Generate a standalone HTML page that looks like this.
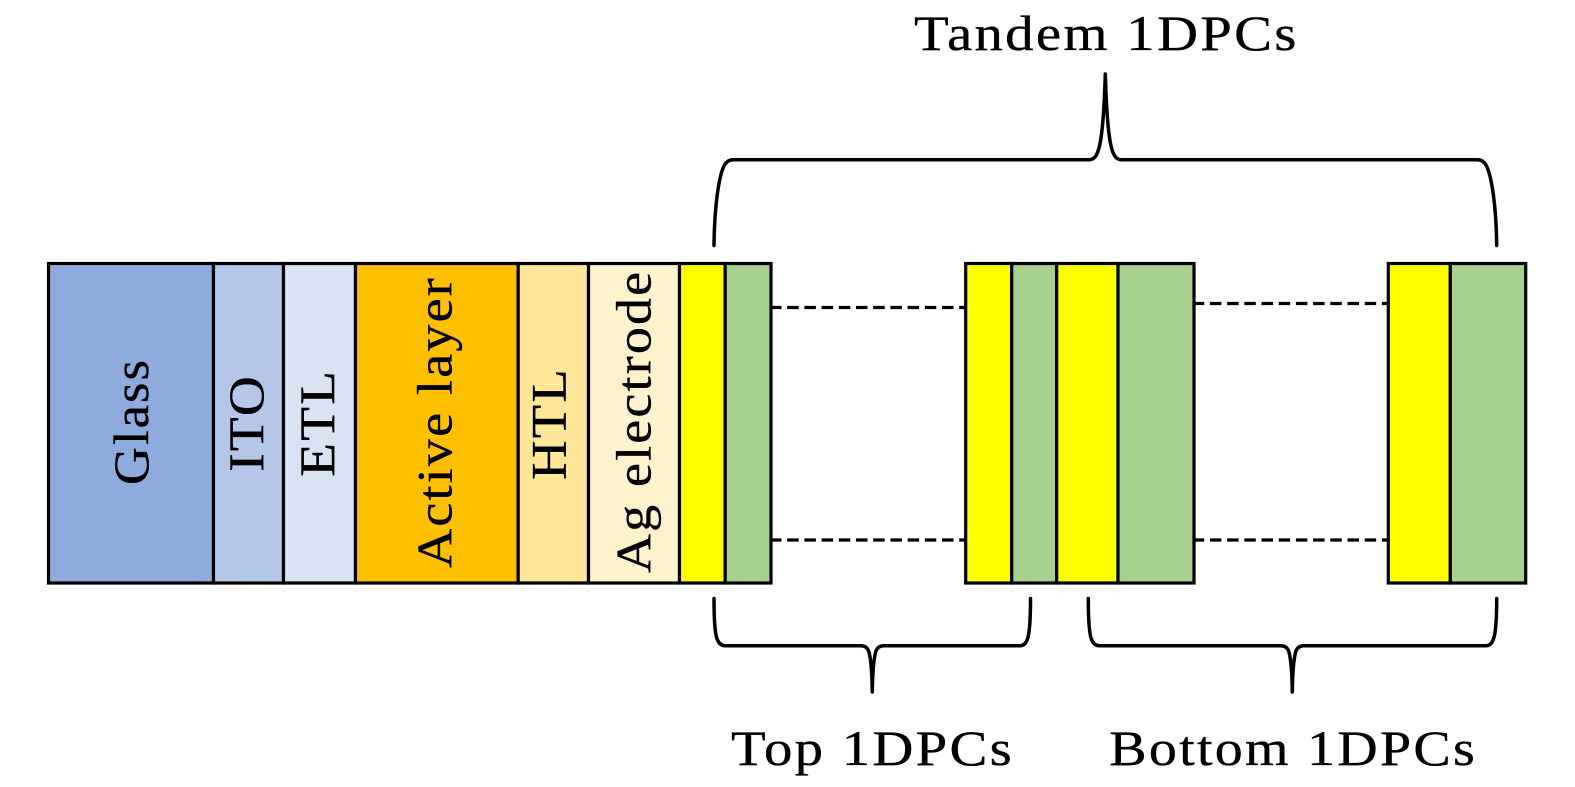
<!DOCTYPE html>
<html>
<head>
<meta charset="utf-8">
<style>
html,body{margin:0;padding:0;background:#fff;width:1575px;height:787px;overflow:hidden}
svg{display:block}
text{font-family:"Liberation Serif",serif;font-size:50px;fill:#000;stroke:#000;stroke-width:.35px;letter-spacing:2px}
</style>
</head>
<body>
<svg width="1575" height="787" viewBox="0 0 1575 787" xmlns="http://www.w3.org/2000/svg">
<g stroke="#000" stroke-width="3.2" stroke-linejoin="miter">
<rect x="48.5" y="263.5" width="165" height="319.5" fill="#8FAADC"/>
<rect x="213.5" y="263.5" width="70" height="319.5" fill="#B4C7E7"/>
<rect x="283.5" y="263.5" width="72" height="319.5" fill="#DAE3F3"/>
<rect x="355.5" y="263.5" width="162.7" height="319.5" fill="#FFC000"/>
<rect x="518.2" y="263.5" width="70.3" height="319.5" fill="#FFE699"/>
<rect x="588.5" y="263.5" width="91" height="319.5" fill="#FFF2CC"/>
<rect x="679.5" y="263.5" width="45.7" height="319.5" fill="#FFFF00"/>
<rect x="725.2" y="263.5" width="45.8" height="319.5" fill="#A9D18E"/>
<rect x="965.7" y="263.5" width="46" height="319.5" fill="#FFFF00"/>
<rect x="1011.7" y="263.5" width="45" height="319.5" fill="#A9D18E"/>
<rect x="1056.7" y="263.5" width="61.3" height="319.5" fill="#FFFF00"/>
<rect x="1118" y="263.5" width="76" height="319.5" fill="#A9D18E"/>
<rect x="1388.3" y="263.5" width="62" height="319.5" fill="#FFFF00"/>
<rect x="1450.3" y="263.5" width="75.4" height="319.5" fill="#A9D18E"/>
</g>
<g stroke="#000" stroke-width="3.2" stroke-dasharray="11.5 5.7" fill="none">
<line x1="770" y1="307.5" x2="966" y2="307.5"/>
<line x1="770" y1="540" x2="966" y2="540"/>
<line x1="1192.7" y1="303.5" x2="1389" y2="303.5"/>
<line x1="1192.7" y1="540" x2="1389" y2="540"/>
</g>
<g fill="none" stroke="#000" stroke-width="3.5" stroke-linecap="round" stroke-linejoin="round">
<path d="M714 245.5 C714.5 205 719 176 724 166 Q727 159.7 733 159.7 H1089 C1098 159.7 1103 150 1105.3 74 C1107.6 150 1112.5 159.7 1121.5 159.7 H1477.5 Q1483.5 159.7 1486.5 166 C1491.5 176 1496.2 205 1496.7 245.5"/>
<path d="M714 598.5 C714 626 715.5 636 717.5 640 Q720 645.7 725 645.7 H861 Q867 645.7 869 652 C871 660 872 670 872.3 692 C872.6 670 873.6 660 875.6 652 Q877.6 645.7 883.6 645.7 H1020 Q1025 645.7 1027 640 C1029 636 1030.5 626 1030.5 598.5"/>
<path d="M1088.3 598.5 C1088.3 626 1089.8 636 1091.8 640 Q1094.3 645.7 1099.3 645.7 H1281 Q1287 645.7 1289 652 C1291 660 1292 670 1292.3 692 C1292.6 670 1293.6 660 1295.6 652 Q1297.6 645.7 1303.6 645.7 H1486 Q1491 645.7 1493 640 C1495 636 1496.7 626 1496.7 598.5"/>
</g>
<text x="914" y="50" textLength="384.7" lengthAdjust="spacingAndGlyphs">Tandem 1DPCs</text>
<text x="731" y="765" textLength="283" lengthAdjust="spacingAndGlyphs">Top 1DPCs</text>
<text x="1109.3" y="765" textLength="367.7" lengthAdjust="spacingAndGlyphs">Bottom 1DPCs</text>
<text transform="translate(148 485) rotate(-90)" textLength="127" lengthAdjust="spacingAndGlyphs">Glass</text>
<text transform="translate(263 471.7) rotate(-90)" textLength="97.7" lengthAdjust="spacingAndGlyphs">ITO</text>
<text transform="translate(334 476.7) rotate(-90)" textLength="108" lengthAdjust="spacingAndGlyphs">ETL</text>
<text transform="translate(451.7 568) rotate(-90)" textLength="292" lengthAdjust="spacingAndGlyphs">Active layer</text>
<text transform="translate(565.7 480) rotate(-90)" textLength="113" lengthAdjust="spacingAndGlyphs">HTL</text>
<text transform="translate(650.7 573) rotate(-90)" textLength="303.3" lengthAdjust="spacingAndGlyphs">Ag electrode</text>
</svg>
</body>
</html>
